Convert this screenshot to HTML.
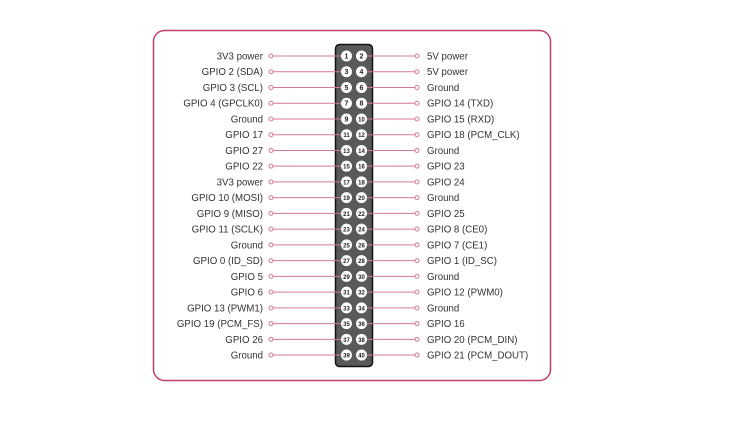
<!DOCTYPE html>
<html><head><style>
body{margin:0;background:#fff;}
svg text{font-family:"Liberation Sans",sans-serif;fill:#333;}
</style></head><body>
<svg width="740" height="425" xmlns="http://www.w3.org/2000/svg">
<rect x="153.5" y="30.5" width="397" height="350" rx="11" fill="#fff" stroke="#c4406a" stroke-width="1.5"/>
<g id="g"></g>
</svg>
<script>
const L=["3V3 power","GPIO 2 (SDA)","GPIO 3 (SCL)","GPIO 4 (GPCLK0)","Ground","GPIO 17","GPIO 27","GPIO 22","3V3 power","GPIO 10 (MOSI)","GPIO 9 (MISO)","GPIO 11 (SCLK)","Ground","GPIO 0 (ID_SD)","GPIO 5","GPIO 6","GPIO 13 (PWM1)","GPIO 19 (PCM_FS)","GPIO 26","Ground"];
const R=["5V power","5V power","Ground","GPIO 14 (TXD)","GPIO 15 (RXD)","GPIO 18 (PCM_CLK)","Ground","GPIO 23","GPIO 24","Ground","GPIO 25","GPIO 8 (CE0)","GPIO 7 (CE1)","GPIO 1 (ID_SC)","Ground","GPIO 12 (PWM0)","Ground","GPIO 16","GPIO 20 (PCM_DIN)","GPIO 21 (PCM_DOUT)"];
let s='<rect x="335.5" y="44.5" width="37" height="322" rx="4" fill="#58595b" stroke="#111" stroke-width="1.5"/>';
for(let i=0;i<20;i++){const y=56+i*15.74;
s+=`<line x1="273" y1="${y}" x2="341" y2="${y}" stroke="#d47a93" stroke-width="1"/>`;
s+=`<line x1="366" y1="${y}" x2="415" y2="${y}" stroke="#d47a93" stroke-width="1"/>`;
s+=`<circle cx="271" cy="${y}" r="2" fill="#fff" stroke="#d47a93"/>`;
s+=`<circle cx="417" cy="${y}" r="2" fill="#fff" stroke="#d47a93"/>`;
s+=`<circle cx="346.5" cy="${y}" r="5.5" fill="#fff"/><circle cx="361.5" cy="${y}" r="5.5" fill="#fff"/>`;
s+=`<text x="346.5" y="${y+2.5}" font-size="${i<5?7:6}" font-weight="bold" text-anchor="middle" style="fill:#222">${2*i+1}</text>`;
s+=`<text x="361.5" y="${y+2.5}" font-size="${i<4?7:6}" font-weight="bold" text-anchor="middle" style="fill:#222">${2*i+2}</text>`;
s+=`<text x="263" y="${y+3.5}" font-size="9.7" text-anchor="end">${L[i]}</text>`;
s+=`<text x="427" y="${y+3.5}" font-size="9.7">${R[i]}</text>`;}
document.getElementById('g').innerHTML=s;
</script>
</body></html>
